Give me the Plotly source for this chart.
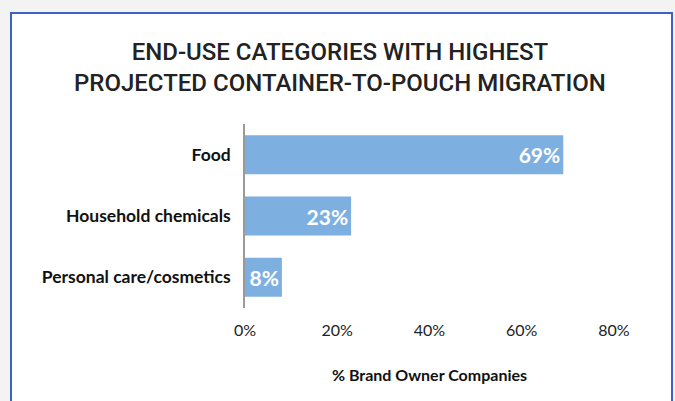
import plotly.graph_objects as go

categories = ["Food", "Household chemicals", "Personal care/cosmetics"]
shares = [69, 23, 8]
tick_values = [0, 20, 40, 60, 80]
tick_labels = ["0%", "20%", "40%", "60%", "80%"]

W, H = 675, 401
L, R, T, B = 245, 61, 124, 93
pw, ph = W - L - R, H - T - B


def px_x(x):
    return (x - L) / pw


def px_y(y):
    return (H - B - y) / ph


fig = go.Figure(
    go.Bar(
        y=categories,
        x=shares,
        orientation="h",
        marker=dict(color="#7eafe1", line=dict(width=0)),
        width=0.635,
        text=[f"{v}%" for v in shares],
        textposition="inside",
        insidetextanchor="end",
        textfont=dict(family="Lato", size=21, color="white", weight="bold"),
        cliponaxis=False,
    )
)

fig.update_layout(
    width=W,
    height=H,
    margin=dict(l=L, r=R, t=T, b=B),
    paper_bgcolor="#f3f3f3",
    plot_bgcolor="white",
    showlegend=False,
    uniformtext=dict(mode=False),
    shapes=[
        dict(
            type="rect", xref="paper", yref="paper",
            x0=px_x(11), x1=px_x(672), y0=px_y(420), y1=px_y(13),
            fillcolor="white", line=dict(color="#3c62c4", width=2), layer="below",
        )
    ],
    annotations=[
        dict(
            text="END-USE CATEGORIES WITH HIGHEST<br>PROJECTED CONTAINER-TO-POUCH MIGRATION",
            xref="paper", yref="paper", x=px_x(340), y=px_y(67),
            xanchor="center", yanchor="middle", showarrow=False,
            font=dict(family="Roboto", size=24, color="#222222", weight=500),
        )
    ],
)

fig.update_xaxes(
    range=[0, 80],
    tickvals=tick_values,
    ticktext=tick_labels,
    showgrid=False,
    zeroline=False,
    showline=False,
    ticks="",
    ticklabelstandoff=11,
    tickfont=dict(family="Lato", size=16, color="#222222"),
    title=dict(
        text="% Brand Owner Companies",
        font=dict(family="Lato", size=16, color="#111111", weight="bold"),
        standoff=31,
    ),
)

fig.update_yaxes(
    categoryorder="array",
    categoryarray=categories[::-1],
    showgrid=False,
    zeroline=False,
    showline=True,
    linecolor="#9a9a9a",
    linewidth=1.5,
    ticks="",
    ticklabelstandoff=9,
    tickfont=dict(family="Lato", size=17.5, color="#111111", weight="bold"),
)

fig.write_html("out.html")
